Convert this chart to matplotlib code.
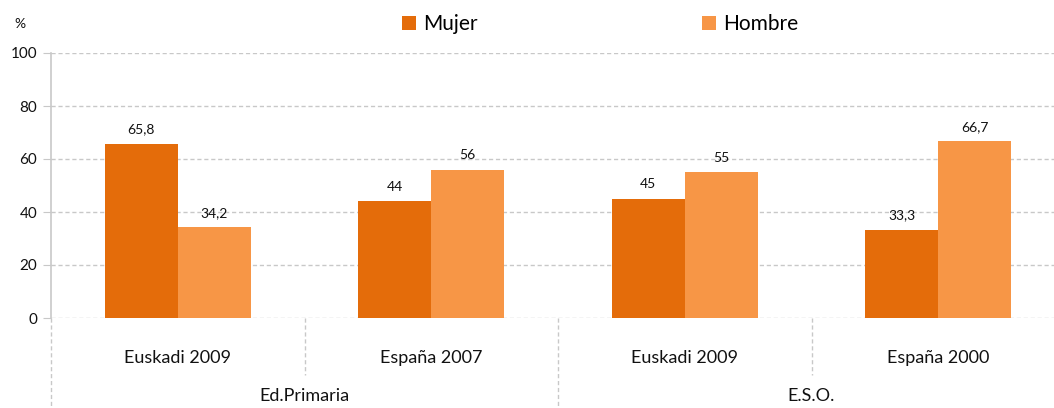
import matplotlib.pyplot as plt
import numpy as np

plt.rcParams['font.family'] = ['Lato', 'DejaVu Sans']

categories = ['Euskadi 2009', 'España 2007', 'Euskadi 2009', 'España 2000']
groups = ['Ed.Primaria', 'E.S.O.']
mujer = [65.8, 44, 45, 33.3]
hombre = [34.2, 56, 55, 66.7]
mujer_labels = ['65,8', '44', '45', '33,3']
hombre_labels = ['34,2', '56', '55', '66,7']
yticks = [0, 20, 40, 60, 80, 100]

C_MUJER = '#E46C0A'
C_HOMBRE = '#F79646'
GRID = '#c8c8c8'


def main():
    fig = plt.figure(figsize=(10.54, 4.08), dpi=100)
    W, H = 1054, 408
    ax = fig.add_axes([51 / W, 90 / H, (1065 - 51) / W, 265 / H])

    x = np.arange(len(categories))
    w = 0.288
    b1 = ax.bar(x - w / 2, mujer, w, color=C_MUJER, label='Mujer')
    b2 = ax.bar(x + w / 2, hombre, w, color=C_HOMBRE, label='Hombre')

    for bars, labs in ((b1, mujer_labels), (b2, hombre_labels)):
        for rect, lab in zip(bars, labs):
            ax.annotate(lab, (rect.get_x() + rect.get_width() / 2, rect.get_height()),
                        xytext=(0, 6), textcoords='offset points',
                        ha='center', va='bottom', fontsize=10, color='#111111')

    ax.set_xlim(-0.5, len(categories) - 0.5)
    ax.set_ylim(0, 100)
    ax.set_yticks(yticks)
    ax.set_yticklabels([str(v) for v in yticks], fontsize=11, color='#111111')
    ax.yaxis.grid(True, linestyle=(0, (3, 2)), color=GRID, linewidth=1)
    ax.set_axisbelow(True)
    ax.tick_params(axis='y', length=6, color=GRID, pad=4)

    ax.set_xticks(x)
    ax.set_xticklabels(categories, fontsize=13, color='#111111')
    ax.tick_params(axis='x', length=0, pad=23)

    for s in ('top', 'right', 'bottom'):
        ax.spines[s].set_visible(False)
    ax.spines['left'].set_color(GRID)
    ax.spines['left'].set_linewidth(1.2)

    # separators below the axis
    tr = ax.get_xaxis_transform()
    for xs, y0 in ((-0.5, -0.34), (0.5, -0.215), (1.5, -0.34), (2.5, -0.215)):
        ax.plot([xs, xs], [0, y0], transform=tr, clip_on=False,
                color=GRID, linewidth=1, linestyle=(0, (3, 2)))

    for gi, g in enumerate(groups):
        ax.text(gi * 2 + 0.5, -0.295, g, transform=tr, ha='center', va='center',
                fontsize=13, color='#111111')

    fig.text(14 / W, 1 - 24 / H, '%', fontsize=10, ha='left', va='center', color='#111111')

    fig.legend(handles=[b1, b2], loc='center left',
               bbox_to_anchor=(402 / W, 1 - 24 / H), ncol=2, frameon=False,
               fontsize=15, handlelength=0.65, handleheight=0.65,
               handletextpad=0.35, columnspacing=10.8, borderpad=0,
               borderaxespad=0)

    fig.savefig('out.png', dpi=100)


if __name__ == '__main__':
    main()
